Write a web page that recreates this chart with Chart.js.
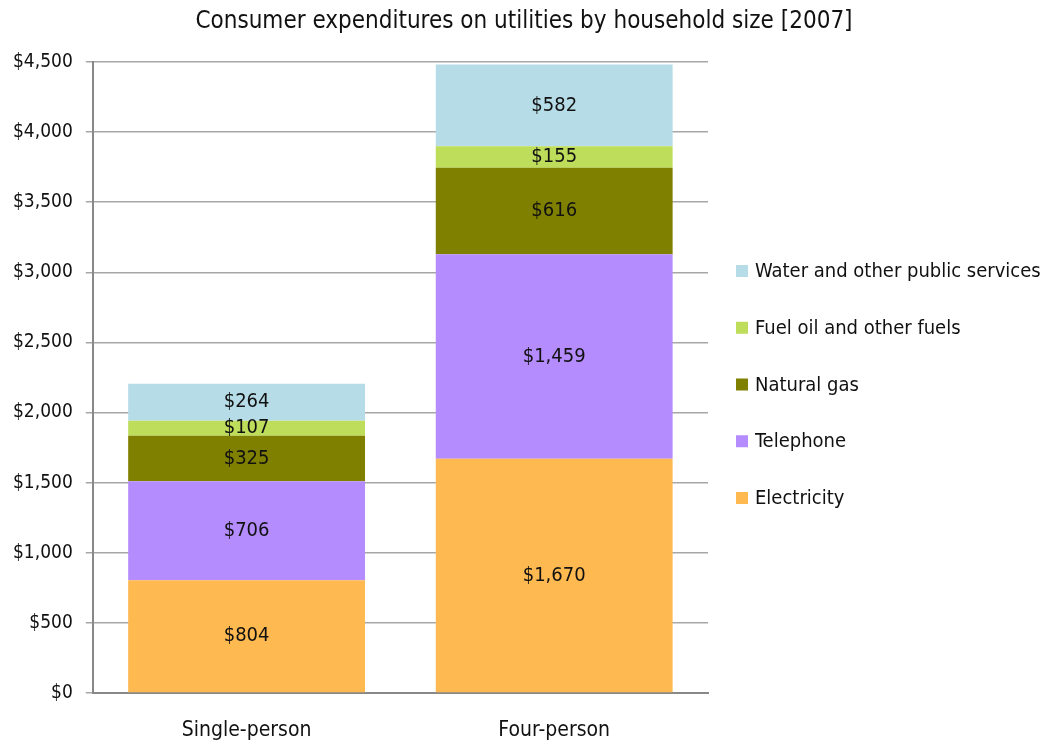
<!DOCTYPE html>
<html>
<head>
<meta charset="utf-8">
<script src="https://cdn.jsdelivr.net/npm/chart.js@4/dist/chart.umd.min.js"></script>
<style>
  html, body { margin: 0; padding: 0; background: #fff; }
  #wrap { width: 1043px; height: 746px; }
</style>
</head>
<body>
<div id="wrap"><canvas id="utilChart"></canvas></div>
<script>
const categories = ["Single-person", "Four-person"];
const electricity = [804, 1670];
const telephone = [706, 1459];
const naturalGas = [325, 616];
const fuelOil = [107, 155];
const water = [264, 582];
const yTicks = [0, 500, 1000, 1500, 2000, 2500, 3000, 3500, 4000, 4500];
const chartTitle = "Consumer expenditures on utilities by household size [2007]";

const FONT = "'DejaVu Sans Condensed', 'Liberation Sans Narrow', sans-serif";

function money(v) {
    return "$" + v.toLocaleString("en-US");
}

// draws the value in the middle of every bar segment
const segmentLabels = {
    id: "segmentLabels",
    afterDatasetsDraw(chart) {
        const ctx = chart.ctx;
        ctx.save();
        ctx.font = "20px " + FONT;
        ctx.fillStyle = "#111";
        ctx.textAlign = "center";
        ctx.textBaseline = "middle";
        chart.data.datasets.forEach((ds, i) => {
            const meta = chart.getDatasetMeta(i);
            meta.data.forEach((bar, j) => {
                const p = bar.getCenterPoint();
                ctx.fillText(money(ds.data[j]), p.x, p.y);
            });
        });
        ctx.restore();
    }
};

// title over the whole canvas, category names under the x axis, legend on the right
const extras = {
    id: "extras",
    afterDraw(chart) {
        const ctx = chart.ctx;
        const area = chart.chartArea;
        ctx.save();
        ctx.fillStyle = "#111";
        ctx.textBaseline = "middle";

        ctx.textAlign = "center";
        ctx.font = "24px " + FONT;
        ctx.fillText(chartTitle, 524, 22);

        ctx.font = "21px " + FONT;
        const xs = chart.scales.x;
        categories.forEach((c, i) => {
            ctx.fillText(c, xs.getPixelForValue(i), area.bottom + 38);
        });

        const items = chart.data.datasets.slice().reverse();
        const mid = (area.top + area.bottom) / 2 + 7;
        const step = 56.75;
        ctx.font = "20px " + FONT;
        ctx.textAlign = "left";
        items.forEach((ds, i) => {
            const y = mid + (i - (items.length - 1) / 2) * step;
            ctx.fillStyle = ds.backgroundColor;
            ctx.fillRect(area.right + 28, y - 6, 12, 12);
            ctx.fillStyle = "#111";
            ctx.fillText(ds.label, area.right + 47, y + 1);
        });
        ctx.restore();
    }
};

const ctx = document.getElementById("utilChart").getContext("2d");
const chart = new Chart(ctx, {
    type: "bar",
    data: {
        labels: categories,
        datasets: [
            { label: "Electricity", data: electricity, backgroundColor: "#ffb951" },
            { label: "Telephone", data: telephone, backgroundColor: "#b48cfd" },
            { label: "Natural gas", data: naturalGas, backgroundColor: "#808000" },
            { label: "Fuel oil and other fuels", data: fuelOil, backgroundColor: "#bedd5a" },
            { label: "Water and other public services", data: water, backgroundColor: "#b6dde7" }
        ]
    },
    options: {
        responsive: true,
        maintainAspectRatio: false,
        animation: false,
        layout: { padding: { left: 0, right: 335, top: 62, bottom: 53 } },
        datasets: {
            bar: { barPercentage: 0.77, categoryPercentage: 1.0, borderWidth: 0 }
        },
        plugins: {
            title: { display: false },
            legend: { display: false },
            tooltip: { enabled: false }
        },
        scales: {
            x: {
                stacked: true,
                z: 1,
                grid: { display: false, drawOnChartArea: false, drawTicks: false },
                border: { color: "#888", width: 2 },
                ticks: { display: false }
            },
            y: {
                stacked: true,
                min: 0,
                max: 4500,
                z: 1,
                afterBuildTicks: (axis) => {
                    axis.ticks = yTicks.map(v => ({ value: v }));
                },
                grid: { color: "rgba(0,0,0,0.35)", lineWidth: 1.5, tickLength: 7 },
                border: { color: "#888", width: 2 },
                ticks: {
                    color: "#111",
                    font: { family: FONT, size: 19 },
                    padding: 13,
                    callback: (v) => money(v)
                }
            }
        }
    },
    plugins: [segmentLabels, extras]
});
</script>
</body>
</html>
